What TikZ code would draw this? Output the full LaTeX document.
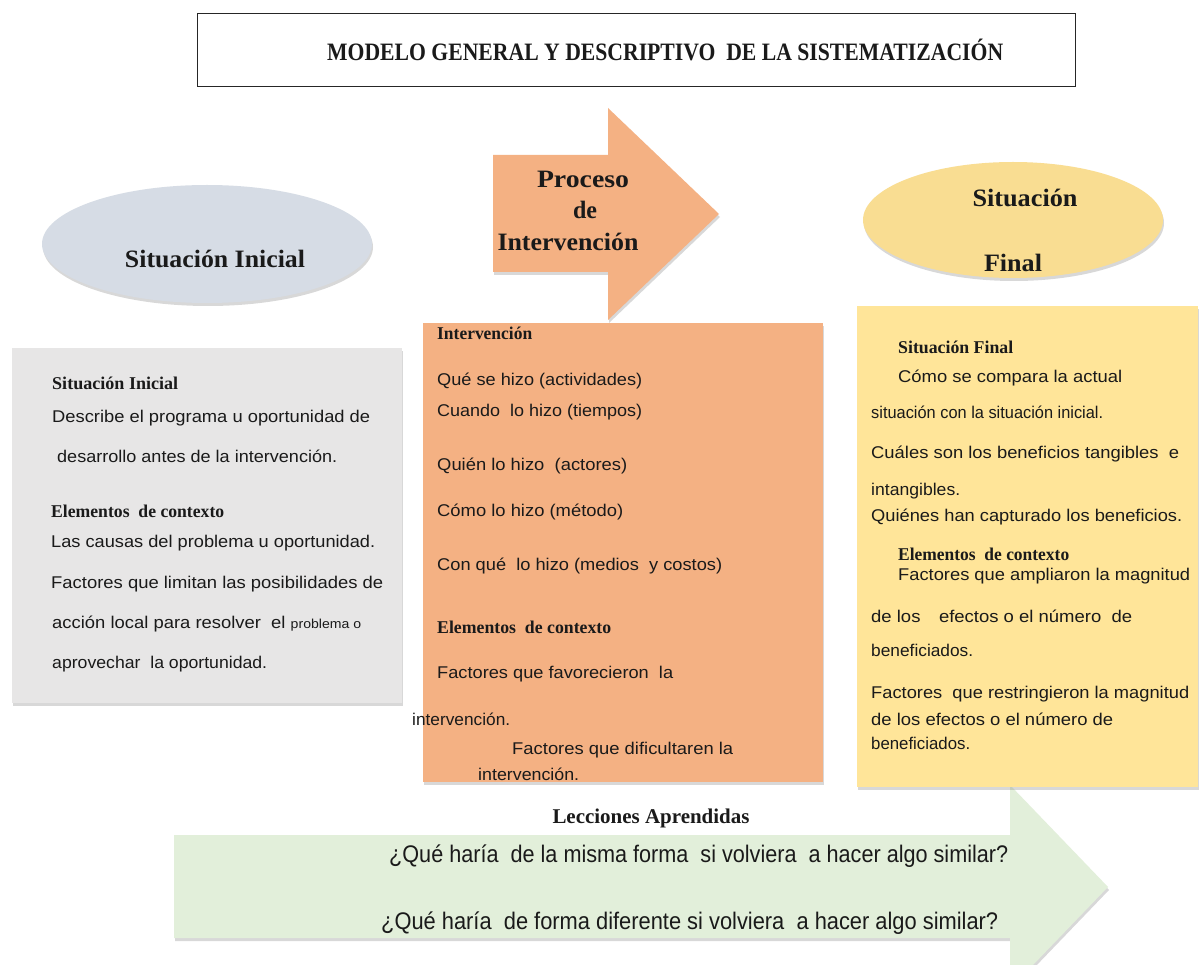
\documentclass[tikz,border=0pt]{standalone}
\usepackage{fontspec}
\setmainfont{Liberation Serif}
\setsansfont{Liberation Sans}
\usetikzlibrary{shapes.geometric,shadows}
\newcommand\fw[2]{\resizebox{#1pt}{\height}{#2}}
\definecolor{grayell}{HTML}{D6DCE5}
\definecolor{graybox}{HTML}{E7E6E6}
\definecolor{orangef}{HTML}{F4B183}
\definecolor{yellell}{HTML}{F9DD92}
\definecolor{yellbox}{HTML}{FFE599}
\definecolor{greenf}{HTML}{E2EFDA}
\definecolor{ink}{HTML}{1A1A1A}
\begin{document}
\begin{tikzpicture}[x=1pt,y=-1pt,
  sl/.style={anchor=base west, inner sep=0pt, text=ink, font=\sffamily\fontsize{17}{20}\selectfont},
  bl/.style={anchor=base west, inner sep=0pt, text=ink, font=\rmfamily\bfseries\fontsize{18}{21}\selectfont},
  hd/.style={anchor=base, inner sep=0pt, text=ink, font=\rmfamily\bfseries\fontsize{25}{29}\selectfont},
  ql/.style={anchor=base west, inner sep=0pt, text=ink, font=\sffamily\fontsize{24}{28}\selectfont},
  shad/.style={drop shadow={shadow xshift=1pt, shadow yshift=-3pt, opacity=0.3}},
  panel/.style={anchor=north west, inner sep=0pt, shad},
]
\useasboundingbox (0,0) rectangle (1200,965);
\fill[white] (0,0) rectangle (1200,965);

% title
\node[draw=gray!30!black, line width=1.3pt, anchor=north west, inner sep=0pt,
      minimum width=878pt, minimum height=73pt] (tbox) at (197,13) {};
\node[anchor=base west, inner sep=0pt, text=ink, font=\rmfamily\bfseries\fontsize{25}{29}\selectfont]
  (title) at (327,61) {\fw{676}{MODELO GENERAL Y DESCRIPTIVO\ \ DE LA SISTEMATIZACIÓN}};

% ellipses
\node[ellipse, fill=grayell, inner sep=0pt, minimum width=330pt, minimum height=118pt, shad] (eini) at (207,244) {};
\node[hd] (einit) at (215,268) {\fw{180}{Situación Inicial}};
\node[ellipse, fill=yellell, inner sep=0pt, minimum width=300pt, minimum height=116pt, shad] (efin) at (1013,220) {};
\node[hd] (efint1) at (1025,207) {\fw{105}{Situación}};
\node[hd] (efint2) at (1013,272) {\fw{58}{Final}};

% orange arrow
\path[fill=orangef, shad] (493,155) -- (608,155) -- (608,108) -- (719,214) -- (608,320) -- (608,272) -- (493,272) -- cycle;
\node[hd] (pa1) at (583,188) {\fw{92}{Proceso}};
\node[hd] (pa2) at (585,219) {\fw{24}{de}};
\node[hd] (pa3) at (568,251) {\fw{141}{Intervención}};

% green arrow
\path[fill=greenf, shad] (174,835) -- (1010,835) -- (1010,785) -- (1108,887) -- (1033,965) -- (1010,965) -- (1010,938) -- (174,938) -- cycle;

% panels
\node[panel, fill=graybox, minimum width=390pt, minimum height=355pt] (gbox) at (12,348) {};
\node[panel, fill=orangef, minimum width=400pt, minimum height=459pt] (obox) at (423,323) {};
\node[panel, fill=yellbox, minimum width=341pt, minimum height=481pt] (ybox) at (857,306) {};

% gray panel text
\node[bl] (gi1) at (52,390) {\fw{126}{Situación Inicial}};
\node[sl] (g1) at (52,423) {\fw{318}{Describe el programa u oportunidad de}};
\node[sl] (g2) at (57,463) {\fw{280}{desarrollo antes de la intervención.}};
\node[bl] (gi2) at (51,518) {\fw{173}{Elementos\ \ de contexto}};
\node[sl] (g3) at (51,547) {\fw{324}{Las causas del problema u oportunidad.}};
\node[sl] (g4) at (51,588) {\fw{332}{Factores que limitan las posibilidades de}};
\node[sl] (g5) at (52,628) {\fw{309}{acción local para resolver\ \ el {\fontsize{13}{15}\selectfont problema o}}};
\node[sl] (g6) at (52,668) {\fw{215}{aprovechar\ \ la oportunidad.}};

% orange panel text
\node[bl] (oi1) at (437,340) {\fw{95}{Intervención}};
\node[sl] (o1) at (437,386) {\fw{205}{Qué se hizo (actividades)}};
\node[sl] (o2) at (437,417) {\fw{205}{Cuando\ \ lo hizo (tiempos)}};
\node[sl] (o3) at (437,471) {\fw{190}{Quién lo hizo\ \ (actores)}};
\node[sl] (o4) at (437,516) {\fw{186}{Cómo lo hizo (método)}};
\node[sl] (o5) at (437,570) {\fw{285}{Con qué\ \ lo hizo (medios\ \ y costos)}};
\node[bl] (oi2) at (437,633) {\fw{174}{Elementos\ \ de contexto}};
\node[sl] (o6) at (437,678) {\fw{236}{Factores que favorecieron\ \ la}};
\node[sl] (o7) at (412,725) {\fw{98}{intervención.}};
\node[sl] (o8) at (512,754) {\fw{221}{Factores que dificultaren la}};
\node[sl] (o9) at (478,780) {\fw{101}{intervención.}};

% yellow panel text
\node[bl] (yi1) at (898,354) {\fw{115}{Situación Final}};
\node[sl] (y1) at (898,383) {\fw{224}{Cómo se compara la actual}};
\node[sl] (y2) at (871,419) {\fw{232}{situación con la situación inicial.}};
\node[sl] (y3) at (871,459) {\fw{308}{Cuáles son los beneficios tangibles\ \ e}};
\node[sl] (y4) at (871,496) {\fw{89}{intangibles.}};
\node[sl] (y5) at (871,521) {\fw{311}{Quiénes han capturado los beneficios.}};
\node[bl] (yi2) at (898,560) {\fw{171}{Elementos\ \ de contexto}};
\node[sl] (y6) at (898,580) {\fw{292}{Factores que ampliaron la magnitud}};
\node[sl] (y7) at (871,622) {\fw{261}{de los\quad efectos o el número\ \ de}};
\node[sl] (y8) at (871,656) {\fw{102}{beneficiados.}};
\node[sl] (y9) at (871,698) {\fw{318}{Factores\ \ que restringieron la magnitud}};
\node[sl] (y10) at (871,725) {\fw{242}{de los efectos o el número de}};
\node[sl] (y11) at (871,749) {\fw{99}{beneficiados.}};

% lessons
\node[anchor=base, inner sep=0pt, text=ink, font=\rmfamily\bfseries\fontsize{21}{25}\selectfont]
  (lec) at (651,823) {\fw{197}{Lecciones Aprendidas}};
\node[ql] (q1) at (389,862) {\fw{619}{¿Qué haría\ \ de la misma forma\ \ si volviera\ \ a hacer algo similar?}};
\node[ql] (q2) at (381,929) {\fw{617}{¿Qué haría\ \ de forma diferente si volviera\ \ a hacer algo similar?}};
\end{tikzpicture}
\end{document}
